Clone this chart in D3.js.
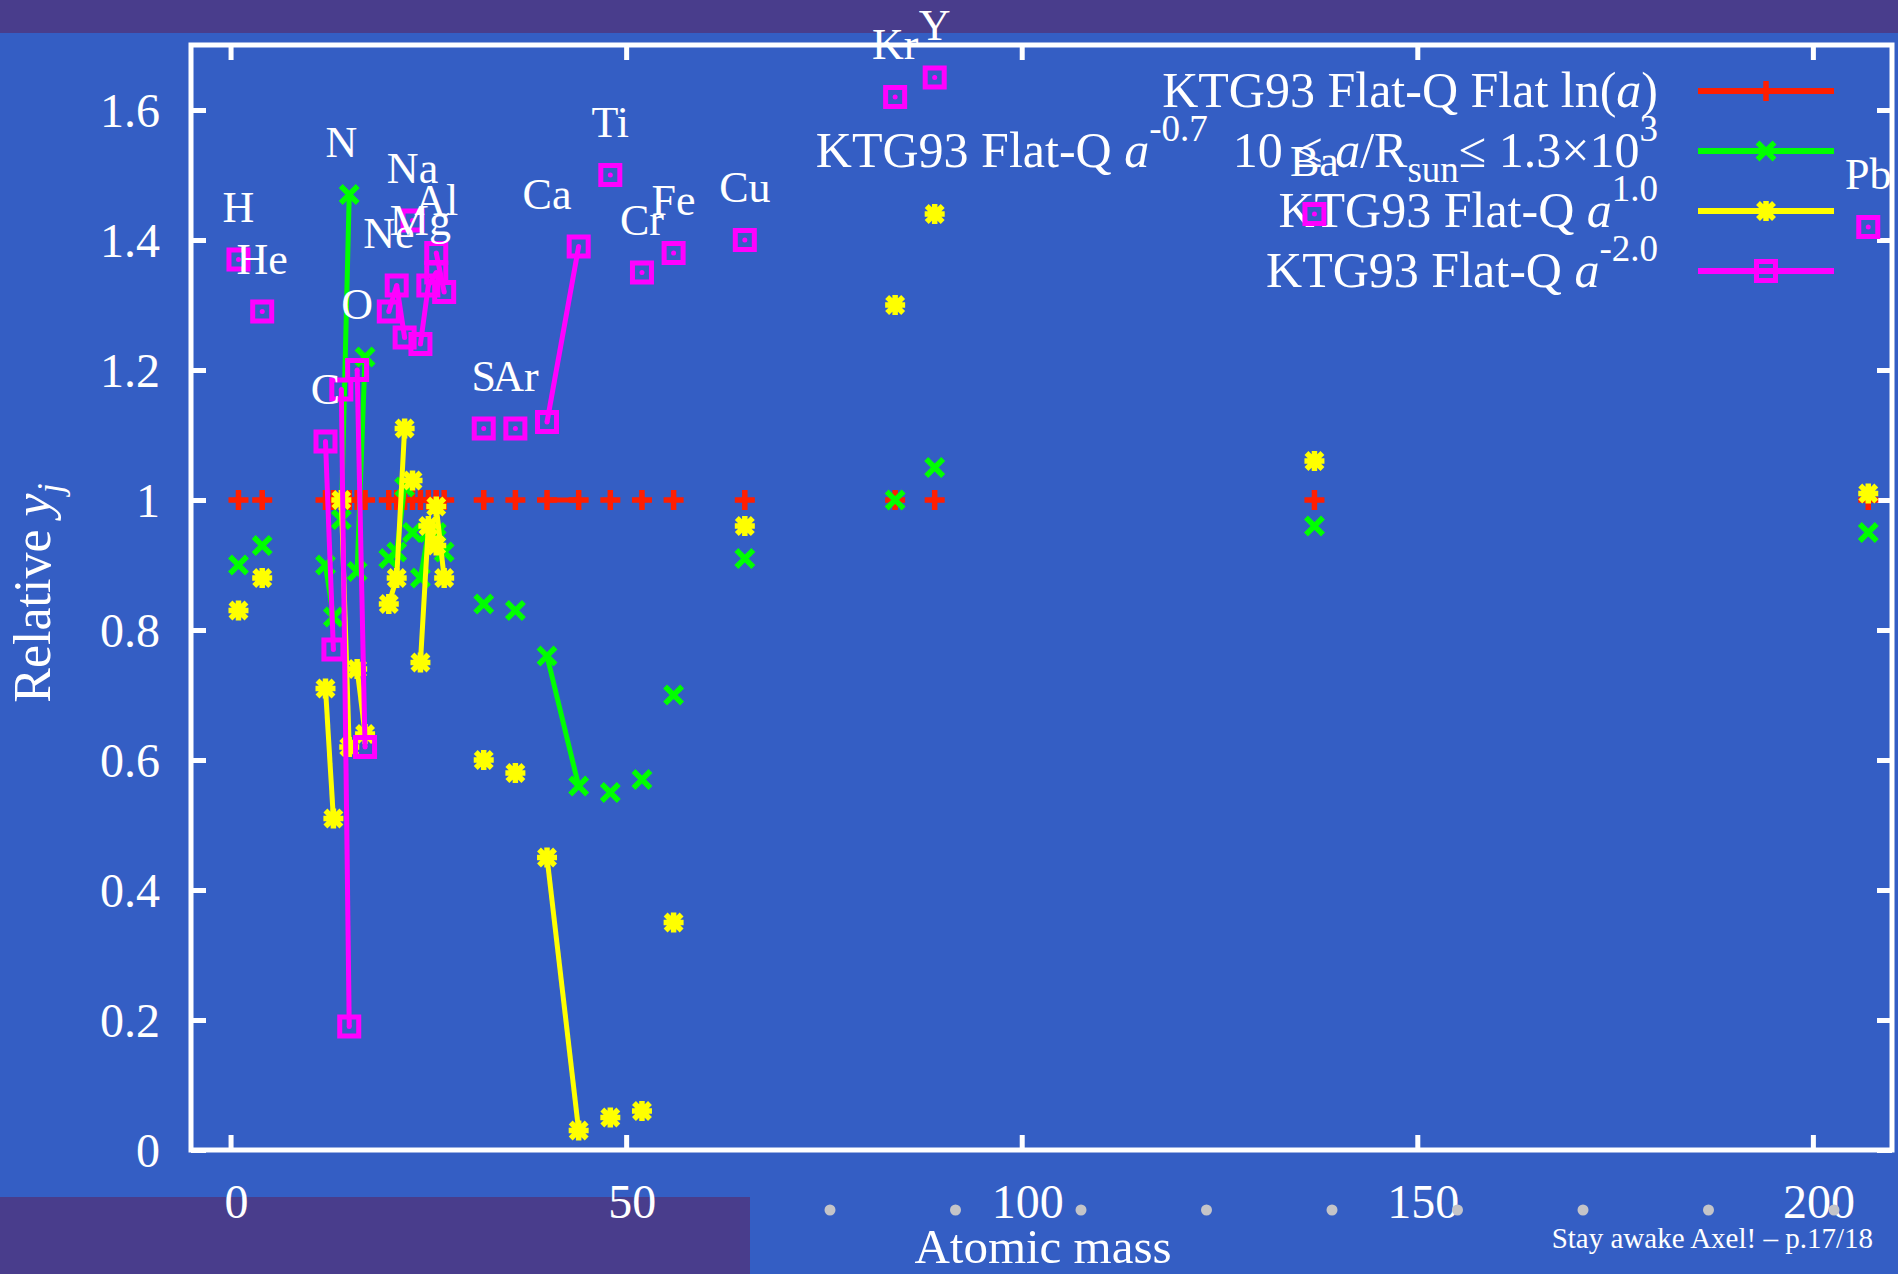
<!DOCTYPE html>
<html>
<head>
<meta charset="utf-8">
<script src="https://cdn.jsdelivr.net/npm/d3@7"></script>
<style>
  html, body { margin: 0; padding: 0; background: #345ec4; }
  svg { display: block; font-family: "Liberation Serif", "DejaVu Serif", serif; }
</style>
</head>
<body>
<svg class="chart" width="1898" height="1274"></svg>
<script>
// elements, their isotope masses, and the relative yields of each model
const elements = ["H", "He", "C", "N", "O", "Ne", "Na", "Mg", "Al", "S", "Ar", "Ca", "Ti", "Cr", "Fe", "Cu", "Kr", "Y", "Ba", "Pb"];
const masses = [[1], [4], [12, 13], [14, 15], [16, 17], [20, 21, 22], [23], [24, 25, 26], [26, 27], [32], [36], [40, 44], [48], [52], [56], [65], [84], [89], [137], [207]];

const flatLn = [[1], [1], [1, 1], [1, 1], [1, 1], [1, 1, 1], [1], [1, 1, 1], [1, 1], [1], [1], [1, 1], [1], [1], [1], [1], [1], [1], [1], [1]];
const powMinus07 = [[0.90], [0.93], [0.90, 0.82], [0.97, 1.47], [0.89, 1.22], [0.91, 0.92, 1.02], [0.95], [0.88, 0.95, 0.94], [0.95, 0.92], [0.84], [0.83], [0.76, 0.56], [0.55], [0.57], [0.70], [0.91], [1.00], [1.05], [0.96], [0.95]];
const pow10 = [[0.83], [0.88], [0.71, 0.51], [1.00, 0.62], [0.74, 0.64], [0.84, 0.88, 1.11], [1.03], [0.75, 0.96, 0.93], [0.99, 0.88], [0.60], [0.58], [0.45, 0.03], [0.05], [0.06], [0.35], [0.96], [1.30], [1.44], [1.06], [1.01]];
const powMinus20 = [[1.37], [1.29], [1.09, 0.77], [1.17, 0.19], [1.20, 0.62], [1.29, 1.33, 1.25], [1.43], [1.24, 1.33, 1.35], [1.38, 1.32], [1.11], [1.11], [1.12, 1.39], [1.50], [1.35], [1.38], [1.40], [1.62], [1.65], [1.44], [1.42]];

const xTicks = [0, 50, 100, 150, 200];
const yTicks = [0, 0.2, 0.4, 0.6, 0.8, 1, 1.2, 1.4, 1.6];

// config
const W = 1898, H = 1274;
const plotLeft = 191, plotRight = 1892, plotTop = 45, plotBottom = 1150;
const bgPurple = "#493d8c";
const white = "#ffffff";

const series = [
  { values: flatLn, color: "#ff1e00", marker: "plus" },
  { values: powMinus07, color: "#00ff00", marker: "cross" },
  { values: pow10, color: "#ffff00", marker: "star" },
  { values: powMinus20, color: "#ff00ff", marker: "square" },
];

const svg = d3.select("svg.chart");

const x = d3.scaleLinear().domain([-5, 210]).range([plotLeft, plotRight]);
const y = d3.scaleLinear().domain([0, 1.7]).range([plotBottom, plotTop]);

// slide decorations
svg.append("rect").attr("width", W).attr("height", H).attr("fill", "#345ec4");
svg.append("rect").attr("width", W).attr("height", 33).attr("fill", bgPurple);
svg.append("rect").attr("x", 0).attr("y", 1197).attr("width", 750).attr("height", H - 1197).attr("fill", bgPurple);

// axes
const tickLen = 15;
const axes = svg.append("g").attr("class", "axes");

axes.append("g").attr("transform", translate(0, plotBottom))
  .call(d3.axisTop(x).tickValues(xTicks).tickSize(tickLen).tickFormat(""));
axes.append("g").attr("transform", translate(0, plotTop))
  .call(d3.axisBottom(x).tickValues(xTicks).tickSize(tickLen).tickFormat(""));
axes.append("g").attr("transform", translate(plotLeft, 0))
  .call(d3.axisRight(y).tickValues(yTicks).tickSize(tickLen).tickFormat(""));
axes.append("g").attr("transform", translate(plotRight, 0))
  .call(d3.axisLeft(y).tickValues(yTicks).tickSize(tickLen).tickFormat(""));
axes.selectAll(".domain").remove();
axes.selectAll(".tick line").attr("stroke", white).attr("stroke-width", 5);

svg.append("rect")
  .attr("x", plotLeft).attr("y", plotTop)
  .attr("width", plotRight - plotLeft).attr("height", plotBottom - plotTop)
  .attr("fill", "none").attr("stroke", white).attr("stroke-width", 5);

// tick labels
svg.append("g").selectAll("text")
  .data(yTicks).enter().append("text")
  .attr("x", 160).attr("y", d => y(d) + 17)
  .attr("text-anchor", "end").attr("fill", white).attr("font-size", 48)
  .text(d => String(+d.toFixed(1)));

svg.append("g").selectAll("text")
  .data(xTicks).enter().append("text")
  .attr("x", d => x(d) + 6).attr("y", 1218)
  .attr("text-anchor", "middle").attr("fill", white).attr("font-size", 48)
  .text(d => d);

// axis titles
svg.append("text")
  .attr("x", 1043).attr("y", 1263)
  .attr("text-anchor", "middle").attr("fill", white).attr("font-size", 49)
  .text("Atomic mass");

const yTitle = svg.append("text")
  .attr("transform", `translate(50, 593) rotate(-90)`)
  .attr("text-anchor", "middle").attr("fill", white).attr("font-size", 52);
yTitle.append("tspan").text("Relative ");
yTitle.append("tspan").attr("font-style", "italic").text("y");
yTitle.append("tspan").attr("font-style", "italic").attr("font-size", 36).attr("dy", 12).text("j");

// legend
const legendRows = [
  [["KTG93 Flat-Q Flat ln("], ["a", "i"], [")"]],
  [["KTG93 Flat-Q "], ["a", "i"], ["-0.7", "sup"], ["  10 \u2264 "], ["a", "i"], ["/R"], ["sun", "sub"], ["\u2264 1.3\u00d710"], ["3", "sup"]],
  [["KTG93 Flat-Q "], ["a", "i"], ["1.0", "sup"]],
  [["KTG93 Flat-Q "], ["a", "i"], ["-2.0", "sup"]],
];
const legendY = [91, 151, 211, 271];

const legend = svg.append("g").attr("class", "legend");
legendRows.forEach((row, i) => {
  const t = legend.append("text")
    .attr("x", 1658).attr("y", legendY[i] + 16)
    .attr("text-anchor", "end").attr("fill", white).attr("font-size", 50)
    .attr("xml:space", "preserve");
  let shift = 0;
  row.forEach(([str, kind]) => {
    const span = t.append("tspan").text(str);
    let target = 0;
    if (kind === "i") span.attr("font-style", "italic");
    if (kind === "sup") { target = -26; span.attr("font-size", 37); }
    if (kind === "sub") { target = 15; span.attr("font-size", 37); }
    if (target !== shift) span.attr("dy", target - shift);
    shift = target;
  });
});

// markers
function markerPath(kind) {
  if (kind === "plus") return "M-10,0H10M0,-10V10";
  if (kind === "cross") return "M-8.5,-8.5L8.5,8.5M-8.5,8.5L8.5,-8.5";
  if (kind === "star") return "M-10,0H10M0,-10V10M-8,-8L8,8M-8,8L8,-8";
  return null;
}

function drawMarker(g, kind, color, px, py) {
  if (kind === "square") {
    g.append("rect")
      .attr("x", px - 9.5).attr("y", py - 9.5).attr("width", 19).attr("height", 19)
      .attr("fill", "none").attr("stroke", color).attr("stroke-width", 5);
    g.append("circle").attr("cx", px).attr("cy", py).attr("r", 2.5).attr("fill", color);
  } else {
    g.append("path")
      .attr("d", markerPath(kind))
      .attr("transform", translate(px, py))
      .attr("fill", "none").attr("stroke", color).attr("stroke-width", 5.5);
  }
}

// legend samples
series.forEach((s, i) => {
  const g = legend.append("g");
  g.append("line")
    .attr("x1", 1698).attr("x2", 1834)
    .attr("y1", legendY[i]).attr("y2", legendY[i])
    .attr("stroke", s.color).attr("stroke-width", 6);
  drawMarker(g, s.marker, s.color, 1766, legendY[i]);
});

// data
const line = d3.line().x(d => x(d[0])).y(d => y(d[1]));
const plot = svg.append("g").attr("class", "plot");

series.forEach(s => {
  const g = plot.append("g");
  const groups = masses.map((ms, i) => ms.map((m, j) => [m, s.values[i][j]]));

  g.selectAll("path.iso")
    .data(groups.filter(gr => gr.length > 1))
    .enter().append("path")
    .attr("class", "iso")
    .attr("d", line)
    .attr("fill", "none").attr("stroke", s.color).attr("stroke-width", 5);

  groups.flat().forEach(d => drawMarker(g, s.marker, s.color, x(d[0]), y(d[1])));
});

// element labels above the highest point of each element
svg.append("g").selectAll("text")
  .data(elements).enter().append("text")
  .attr("x", (d, i) => x(masses[i][0]))
  .attr("y", (d, i) => y(d3.max(series, s => d3.max(s.values[i]))) - 38)
  .attr("text-anchor", "middle").attr("fill", white).attr("font-size", 44)
  .text(d => d);

// navigation dots and footer
svg.append("g").selectAll("circle")
  .data(d3.range(9)).enter().append("circle")
  .attr("cx", i => 830 + i * 125.5).attr("cy", 1210).attr("r", 5.5)
  .attr("fill", "#c4c4c8");

svg.append("text")
  .attr("x", 1873).attr("y", 1248)
  .attr("text-anchor", "end").attr("fill", white).attr("font-size", 29)
  .text("Stay awake Axel! \u2013 p.17/18");

function translate(x, y) {
  return `translate(${x}, ${y})`;
}
</script>
</body>
</html>
